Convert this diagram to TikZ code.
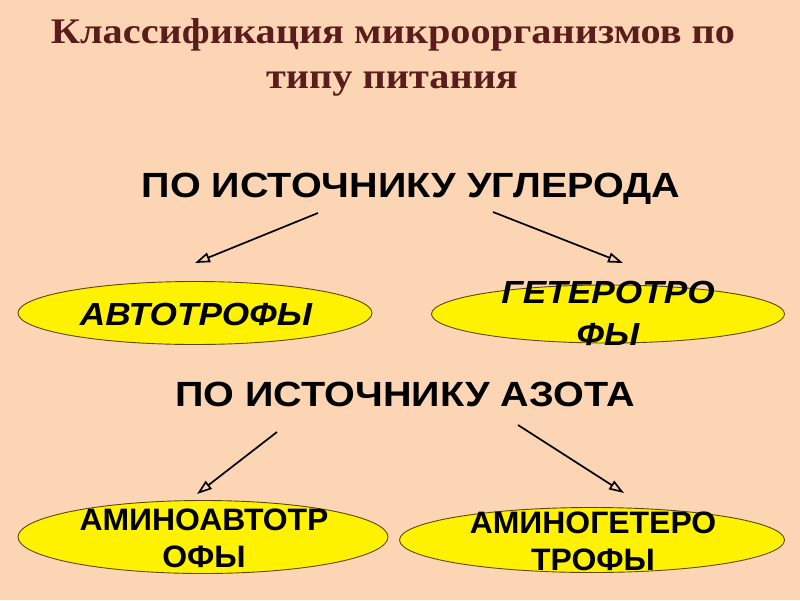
\documentclass[tikz,border=0pt]{standalone}
\usepackage{fontspec}
\setmainfont{Liberation Serif}
\newfontfamily\headfont{Liberation Sans}
\usetikzlibrary{arrows.meta,shapes.geometric}
\definecolor{peach}{HTML}{FCD5B5}
\definecolor{titlered}{HTML}{5B1C1C}
\definecolor{rimolive}{HTML}{5A4A10}
\tikzset{
  typebox/.style={draw=rimolive,line width=0.9pt,ellipse,fill=yellow,inner sep=0pt},
  titletext/.style={text=titlered,anchor=base,inner sep=0pt,xscale=1.12,font=\bfseries\fontsize{36}{40}\selectfont},
  headtext/.style={anchor=base,inner sep=0pt,xscale=1.13,font=\headfont\bfseries\fontsize{35}{40}\selectfont},
  uptext/.style={anchor=base,inner sep=0pt,align=center,xscale=1.1,font=\headfont\bfseries\itshape\fontsize{32}{42}\selectfont},
  lowtext/.style={anchor=base,inner sep=0pt,align=center,xscale=1.03,font=\headfont\bfseries\fontsize{31}{37}\selectfont},
  branch/.style={line width=1.7pt,-{Triangle[open,length=15pt,width=10pt]}},
}
\begin{document}
\begin{tikzpicture}[x=1pt,y=-1pt]
\fill[peach] (0,0) rectangle (800,600);
\useasboundingbox (0,0) rectangle (800,600);
% title
\node[titletext] (title) at (393,43){Классификация микроорганизмов по};
\node[titletext] (titleb) at (392,88){типу питания};
% headings
\node[headtext] (carbon) at (411,197){ПО ИСТОЧНИКУ УГЛЕРОДА};
\node[headtext] (nitrogen) at (405,406){ПО ИСТОЧНИКУ АЗОТА};
% ellipses
\node[typebox,minimum width=354pt,minimum height=63pt] (auto) at (195,313){};
\node[typebox,minimum width=353pt,minimum height=58pt] (hetero) at (608,314){};
\node[typebox,minimum width=370pt,minimum height=73pt] (aminoauto) at (203,537){};
\node[typebox,minimum width=385pt,minimum height=65pt] (aminohetero) at (592,540){};
\node[uptext] (autotext) at (196,325){АВТОТРОФЫ};
\node[uptext] (heterotext) at (608,345){ГЕТЕРОТРО\\ФЫ};
\node[lowtext] (aminoautotext) at (204,567){АМИНОАВТОТР\\ОФЫ};
\node[lowtext] (aminoheterotext) at (593,570){АМИНОГЕТЕРО\\ТРОФЫ};
% arrows
\coordinate (c1) at (318,213);
\coordinate (c2) at (493,212);
\coordinate (n1) at (277,432);
\coordinate (n2) at (518,425);
\coordinate (a1) at (195,263);
\coordinate (h1) at (623,263);
\coordinate (a2) at (197,494);
\coordinate (h2) at (624,493);
\draw[branch] (c1)--(a1);
\draw[branch] (c2)--(h1);
\draw[branch] (n1)--(a2);
\draw[branch] (n2)--(h2);
\end{tikzpicture}
\end{document}
